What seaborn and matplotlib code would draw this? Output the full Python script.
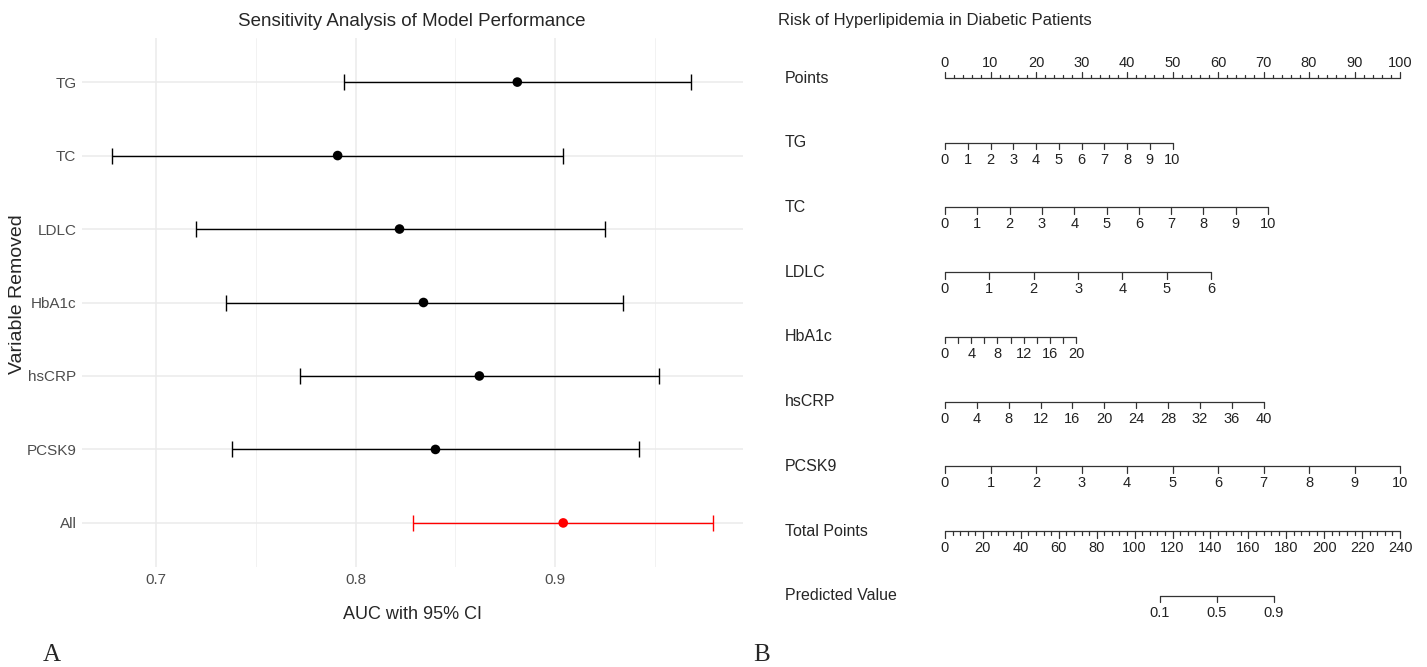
import numpy as np
import pandas as pd
import matplotlib
matplotlib.use('Agg')
import matplotlib.pyplot as plt
import seaborn as sns

# Set a style for seaborn
sns.set_theme(style="whitegrid")
plt.rcParams['font.family'] = ['Liberation Sans', 'DejaVu Sans']

# Panel A: AUC with 95% CI after removing each variable
variables = ['TG', 'TC', 'LDLC', 'HbA1c', 'hsCRP', 'PCSK9', 'All']
auc = [0.881, 0.791, 0.822, 0.834, 0.862, 0.840, 0.904]
ci_low = [0.794, 0.678, 0.720, 0.735, 0.772, 0.738, 0.829]
ci_high = [0.968, 0.904, 0.925, 0.934, 0.952, 0.942, 0.979]
auc_ticks = [0.7, 0.8, 0.9]

# Panel B: nomogram scales
nomo_vars = ['TG', 'TC', 'LDLC', 'HbA1c', 'hsCRP', 'PCSK9']
nomo_max = [10, 10, 6, 20, 40, 10]
nomo_tick_step = [1, 1, 1, 2, 4, 1]
nomo_label_step = [1, 1, 1, 4, 4, 1]
nomo_max_points = [50, 71, 58.5, 28.8, 70, 100]
total_points_max = 240
pred_probs = [0.1, 0.5, 0.9]
pred_total_points = [113.4, 143.5, 173.5]

W, H = 1427, 667
fig = plt.figure(figsize=(W / 100, H / 100), dpi=100)
fig.patch.set_facecolor('white')

# ---------------- Panel A ----------------
df = pd.DataFrame({'variable': variables, 'auc': auc, 'low': ci_low, 'high': ci_high})
df['pos'] = np.arange(len(df))
df['group'] = np.where(df['variable'] == 'All', 'all', 'other')
colors = {'other': 'black', 'all': '#FF0000'}

ax = fig.add_axes([82 / W, 1 - 567 / H, 661 / W, 529 / H])
ax.set_facecolor('white')
for g, sub in df.groupby('group'):
    ax.errorbar(sub['auc'], sub['pos'],
                xerr=[sub['auc'] - sub['low'], sub['high'] - sub['auc']],
                fmt='none', ecolor=colors[g], elinewidth=1.0, capsize=5.5, capthick=1.0, zorder=2)
sns.scatterplot(data=df, x='auc', y='pos', hue='group', palette=colors, legend=False,
                s=48, edgecolor='none', zorder=3, ax=ax)

lo = min(ci_low); hi = max(ci_high); pad = (hi - lo) * 0.05
ax.set_xlim(lo - pad, hi + pad)
ax.set_ylim(len(df) - 0.4, -0.6)
ax.set_xticks(auc_ticks)
ax.set_xticklabels([str(t) for t in auc_ticks])
ax.set_xticks([0.75, 0.85, 0.95], minor=True)
ax.set_yticks(df['pos'])
ax.set_yticklabels(variables)
ax.grid(True, which='major', color='#EBEBEB', linewidth=1.1)
ax.grid(True, which='minor', axis='x', color='#F0F0F0', linewidth=0.6)
for s in ax.spines.values():
    s.set_visible(False)
ax.tick_params(axis='both', which='both', length=0, labelsize=11, labelcolor='#4D4D4D', pad=4)
ax.set_xlabel('AUC with 95% CI', fontsize=13, labelpad=14)
ax.set_ylabel('')

fig.text(18 / W, 1 - 294 / H, 'Variable Removed', rotation=90, ha='center', va='center', fontsize=14)
fig.text(412 / W, 1 - 21 / H, 'Sensitivity Analysis of Model Performance', ha='center', va='center', fontsize=13.5)

# ---------------- Panel B ----------------
axb = fig.add_axes([770 / W, 1 - 640 / H, 657 / W, 600 / H])
axb.set_xlim(-38.46, 105.93)
axb.set_ylim(8.68, -0.587)
axb.axis('off')

lc = '#333333'
lw = 0.9
lab_x = -35.2
lab_fs = 11.5
num_fs = 10.5

# Points row
axb.plot([0, 100], [0, 0], color=lc, lw=lw)
for v in np.arange(0, 101, 2):
    ln = 0.1 if v % 10 == 0 else 0.05
    axb.plot([v, v], [0, -ln], color=lc, lw=lw)
for v in np.arange(0, 101, 10):
    axb.text(v, -0.23, str(v), ha='center', va='center', fontsize=num_fs, color='#222222')
axb.text(lab_x, 0, 'Points', ha='left', va='center', fontsize=lab_fs)

# Variable rows
for i, (name, vmax, tstep, lstep, pmax) in enumerate(zip(nomo_vars, nomo_max, nomo_tick_step,
                                                          nomo_label_step, nomo_max_points)):
    row = i + 1
    scale = pmax / vmax
    axb.plot([0, pmax], [row, row], color=lc, lw=lw)
    for v in np.arange(0, vmax + 0.001, tstep):
        axb.plot([v * scale, v * scale], [row, row + 0.1], color=lc, lw=lw)
    for v in np.arange(0, vmax + 0.001, lstep):
        axb.text(v * scale, row + 0.26, f'{v:g}', ha='center', va='center', fontsize=num_fs, color='#222222')
    axb.text(lab_x, row, name, ha='left', va='center', fontsize=lab_fs)

# Total points row
row = 7
tp_scale = 100 / total_points_max
axb.plot([0, 100], [row, row], color=lc, lw=lw)
for v in np.arange(0, total_points_max + 1, 4):
    ln = 0.1 if v % 20 == 0 else 0.06
    axb.plot([v * tp_scale, v * tp_scale], [row, row + ln], color=lc, lw=lw)
for v in np.arange(0, total_points_max + 1, 20):
    axb.text(v * tp_scale, row + 0.26, str(v), ha='center', va='center', fontsize=num_fs, color='#222222')
axb.text(lab_x, row, 'Total Points', ha='left', va='center', fontsize=lab_fs)

# Predicted value row
row = 8
xs = [p * tp_scale for p in pred_total_points]
axb.plot([xs[0], xs[-1]], [row, row], color=lc, lw=lw)
for x, p in zip(xs, pred_probs):
    axb.plot([x, x], [row, row + 0.1], color=lc, lw=lw)
    axb.text(x, row + 0.26, f'{p:g}', ha='center', va='center', fontsize=num_fs, color='#222222')
axb.text(lab_x, row, 'Predicted Value', ha='left', va='center', fontsize=lab_fs)

fig.text(935 / W, 1 - 21 / H, 'Risk of Hyperlipidemia in Diabetic Patients', ha='center', va='center', fontsize=12)

# Panel letters
fig.text(52 / W, 1 - 655 / H, 'A', ha='center', va='center', fontsize=18, family=['Liberation Serif', 'DejaVu Serif'])
fig.text(762 / W, 1 - 655 / H, 'B', ha='center', va='center', fontsize=18, family=['Liberation Serif', 'DejaVu Serif'])

fig.savefig('out.png', dpi=100)
